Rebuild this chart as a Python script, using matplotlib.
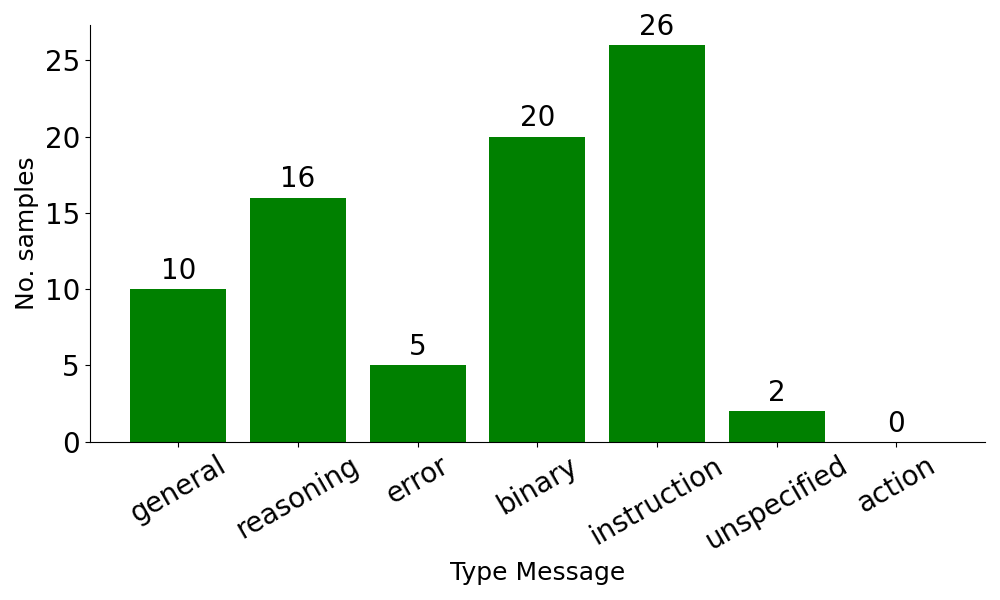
import matplotlib
matplotlib.use("Agg")
import matplotlib.pyplot as plt

categories = ["general", "reasoning", "error", "binary", "instruction", "unspecified", "action"]
counts = [10, 16, 5, 20, 26, 2, 0]

fig, ax = plt.subplots(figsize=(10, 6), dpi=100)
bars = ax.bar(categories, counts, color="green", width=0.8)
ax.bar_label(bars, labels=[str(v) for v in counts], padding=3, fontsize=20)
ax.spines["top"].set_visible(False)
ax.spines["right"].set_visible(False)
ax.set_xlabel("Type Message", fontsize=18)
ax.set_ylabel("No. samples", fontsize=18)
ax.tick_params(axis="y", labelsize=20)
ax.tick_params(axis="x", labelsize=20)
plt.setp(ax.get_xticklabels(), rotation=30)
fig.tight_layout()
fig.savefig("out.png")
